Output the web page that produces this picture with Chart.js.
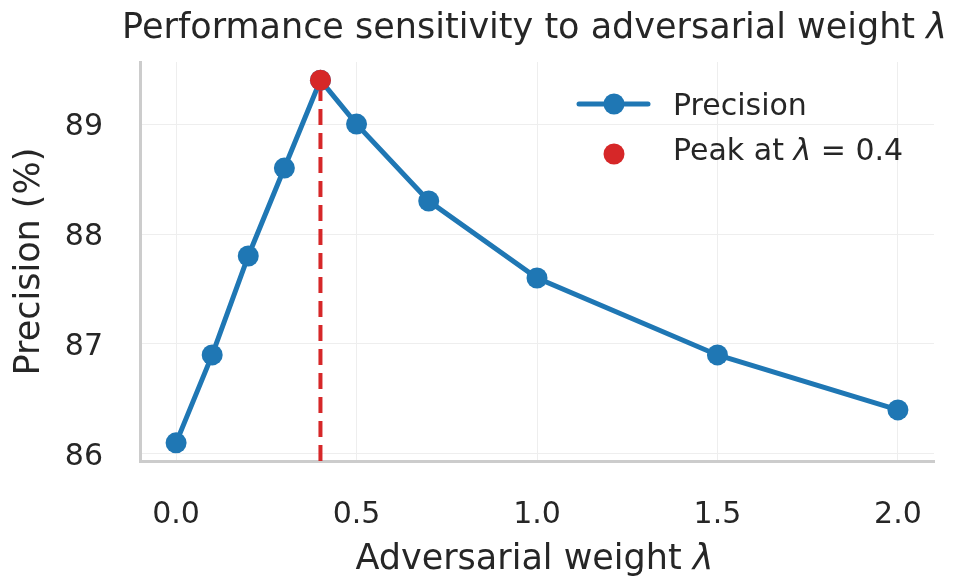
<!DOCTYPE html>
<html>
<head>
<meta charset="utf-8">
<script src="https://cdn.jsdelivr.net/npm/chart.js@4/dist/chart.umd.min.js"></script>
<style>
  html, body { margin: 0; padding: 0; background: #ffffff; }
  #wrap { width: 953px; height: 577px; }
</style>
</head>
<body>
<div id="wrap"><canvas id="c" width="953" height="577"></canvas></div>
<script>
// ---- data ----
const LAMBDAS = [0.0, 0.1, 0.2, 0.3, 0.4, 0.5, 0.7, 1.0, 1.5, 2.0];
const PRECISION = [86.1, 86.9, 87.8, 88.6, 89.4, 89.0, 88.3, 87.6, 86.9, 86.4];
const PEAK_LAMBDA = 0.4;
const PEAK_PRECISION = 89.4;
const X_TICKS = [0.0, 0.5, 1.0, 1.5, 2.0];
const Y_TICKS = [86, 87, 88, 89];
const X_LIMITS = [-0.1, 2.1];
const Y_LIMITS = [85.935, 89.565];

const TITLE_PARTS = [["Performance sensitivity to adversarial weight ", false], ["λ", true]];
const XLABEL_PARTS = [["Adversarial weight ", false], ["λ", true]];
const YLABEL = "Precision (%)";
const LEGEND_LINE = "Precision";
const LEGEND_PEAK_PARTS = [["Peak at ", false], ["λ", true], [" = 0.4", false]];

const FONT = "'DejaVu Sans', sans-serif";
const TEXT = "#262626";
const BLUE = "#1f77b4";
const RED = "#d62728";

function drawParts(ctx, parts, size, x, y, align) {
  let total = 0;
  const widths = parts.map(([t, it]) => {
    ctx.font = (it ? "italic " : "") + size + "px " + FONT;
    const w = ctx.measureText(t).width; total += w; return w;
  });
  let cx = align === "center" ? x - total / 2 : x;
  ctx.textAlign = "left";
  parts.forEach(([t, it], i) => {
    ctx.font = (it ? "italic " : "") + size + "px " + FONT;
    ctx.fillText(t, cx, y);
    cx += widths[i];
  });
}

const textPlugin = {
  id: "texts",
  afterDraw(chart) {
    const ctx = chart.ctx;
    const area = chart.chartArea;
    ctx.save();
    ctx.fillStyle = TEXT;
    ctx.textBaseline = "alphabetic";
    const cx = (area.left + area.right) / 2 - 2.5;
    drawParts(ctx, TITLE_PARTS, 35, cx, 38, "center");
    drawParts(ctx, XLABEL_PARTS, 35, cx, 569, "center");

    // legend
    const lx0 = 579, lx1 = 648, lmx = 614;
    const y1 = 104, y2 = 154;
    ctx.strokeStyle = BLUE; ctx.lineWidth = 5; ctx.lineCap = "round";
    ctx.beginPath(); ctx.moveTo(lx0, y1); ctx.lineTo(lx1, y1); ctx.stroke();
    ctx.fillStyle = BLUE;
    ctx.beginPath(); ctx.arc(lmx, y1, 10.5, 0, Math.PI * 2); ctx.fill();
    ctx.fillStyle = RED;
    ctx.beginPath(); ctx.arc(lmx, y2, 10.5, 0, Math.PI * 2); ctx.fill();
    ctx.fillStyle = TEXT;
    drawParts(ctx, [[LEGEND_LINE, false]], 30, 673, 115, "left");
    drawParts(ctx, LEGEND_PEAK_PARTS, 30, 673, 160, "left");
    ctx.restore();
  }
};

new Chart(document.getElementById("c"), {
  type: "scatter",
  data: {
    datasets: [
      {
        label: "Peak",
        data: [{ x: PEAK_LAMBDA, y: PEAK_PRECISION }],
        backgroundColor: RED,
        borderColor: RED,
        borderWidth: 0,
        pointRadius: 10.5,
        showLine: false
      },
      {
        label: "Precision",
        data: LAMBDAS.map((x, i) => ({ x, y: PRECISION[i] })),
        showLine: true,
        borderColor: BLUE,
        backgroundColor: BLUE,
        borderWidth: 5,
        pointRadius: 10.5,
        pointBorderWidth: 0,
        tension: 0
      },
      {
        label: "peakline",
        data: [{ x: PEAK_LAMBDA, y: Y_LIMITS[0] }, { x: PEAK_LAMBDA, y: PEAK_PRECISION }],
        showLine: true,
        borderColor: RED,
        borderWidth: 4,
        borderDash: [16, 8],
        pointRadius: 0
      }
    ]
  },
  options: {
    responsive: false,
    animation: false,
    events: [],
    layout: { padding: { top: 62, right: 19, bottom: 0, left: 0 } },
    plugins: { legend: { display: false }, tooltip: { enabled: false }, title: { display: false } },
    scales: {
      x: {
        type: "linear",
        min: X_LIMITS[0], max: X_LIMITS[1],
        afterBuildTicks: s => { s.ticks = X_TICKS.map(v => ({ value: v })); },
        afterFit: s => { s.height = 116; s.paddingLeft = 0; s.paddingRight = 0; },
        ticks: { color: TEXT, font: { family: FONT, size: 30 }, padding: 36, maxRotation: 0,
                 callback: v => Number(v).toFixed(1) },
        grid: { color: "#eeeeee", lineWidth: 1, drawTicks: false },
        border: { display: true, color: "#cccccc", width: 3 },
        title: { display: false }
      },
      y: {
        type: "linear",
        min: Y_LIMITS[0], max: Y_LIMITS[1],
        afterBuildTicks: s => { s.ticks = Y_TICKS.map(v => ({ value: v })); },
        afterFit: s => { s.width = 140; s.paddingTop = 0; s.paddingBottom = 0; },
        ticks: { color: TEXT, font: { family: FONT, size: 30 }, padding: 37, labelOffset: 3,
                 callback: v => String(v) },
        grid: { color: "#eeeeee", lineWidth: 1, drawTicks: false },
        border: { display: true, color: "#cccccc", width: 3 },
        title: { display: true, text: YLABEL, color: TEXT, font: { family: FONT, size: 35 }, padding: { top: 9, bottom: 0 } }
      }
    }
  },
  plugins: [textPlugin]
});
</script>
</body>
</html>
